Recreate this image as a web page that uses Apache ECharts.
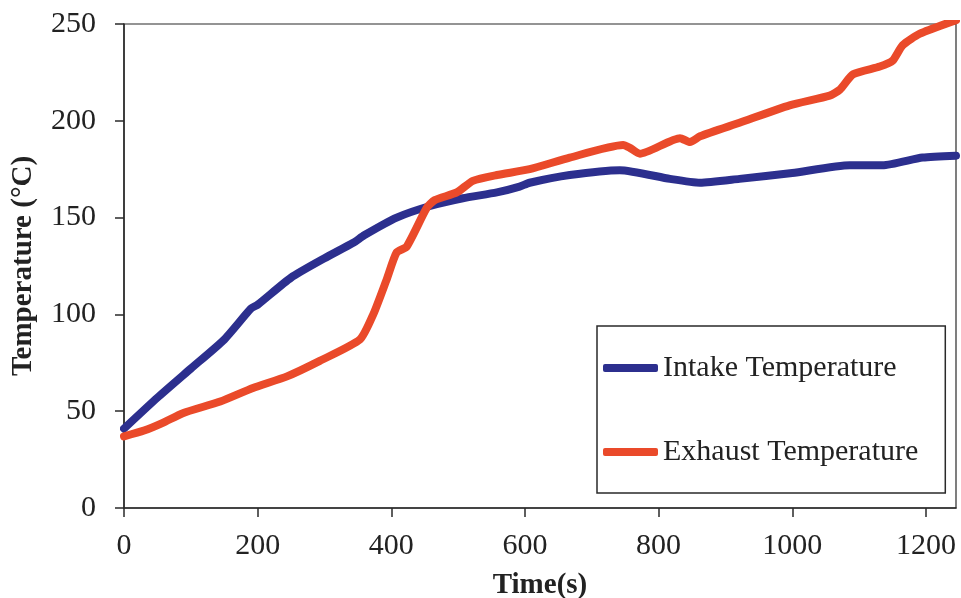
<!DOCTYPE html>
<html>
<head>
<meta charset="utf-8">
<script src="https://cdn.jsdelivr.net/npm/echarts@6/dist/echarts.min.js"></script>
<style>
  html, body { margin: 0; padding: 0; background: #ffffff; }
  #chart { width: 961px; height: 598px; }
</style>
</head>
<body>
<div id="chart"></div>
<script>
  // values
  const intakeTime = [0, 50, 100, 150, 190, 200, 250, 300, 343, 360, 408, 458, 507, 558, 592, 607, 667, 742, 817, 862, 921, 1000, 1086, 1135, 1195, 1245]
  const intakeTemp = [41, 57, 72, 87, 103, 105, 119, 129, 137, 141, 150, 156, 160, 163, 166, 168, 172, 174.5, 170, 168, 170, 173, 177, 177, 181, 182]
  const exhaustTime = [0, 30, 58, 88, 144, 193, 244, 293, 353, 373, 393, 408, 423, 453, 465, 498, 522, 558, 607, 667, 747, 757, 772, 832, 847, 862, 921, 996, 1056, 1071, 1091, 1131, 1150, 1165, 1191, 1245]
  const exhaustTemp = [37, 40, 44, 49, 55, 62, 68, 76, 87, 100, 118, 132, 135, 155, 159, 163, 169, 172, 175, 181, 187.5, 186, 183, 191, 189, 192, 199, 208, 213, 216, 224, 228, 231, 239, 245, 252]
  const xTicks = [0, 200, 400, 600, 800, 1000, 1200]
  const seriesNames = ['Intake Temperature', 'Exhaust Temperature']

  const font = 'Liberation Serif, Times New Roman, serif'
  const pairs = (xs, ys) => xs.map((x, i) => [x, ys[i]])

  const chart = echarts.init(document.getElementById('chart'))
  chart.setOption({
    animation: false,
    backgroundColor: '#ffffff',
    grid: {
      left: 124, right: 5, top: 24, bottom: 90,
      outerBoundsMode: 'none',
      containLabel: false,
      show: true, borderColor: '#2a2a2a', borderWidth: 1.2
    },
    legend: {
      orient: 'vertical',
      left: 597, top: 326,
      padding: [26, 27, 25, 6],
      itemWidth: 55, itemHeight: 8,
      itemGap: 52,
      icon: 'roundRect',
      borderColor: '#2a2a2a', borderWidth: 1.5,
      backgroundColor: '#ffffff',
      textStyle: { fontFamily: font, fontSize: 30, lineHeight: 32, color: '#222' },
      data: seriesNames
    },
    xAxis: {
      type: 'value',
      min: 0, max: 1245,
      name: 'Time(s)',
      nameLocation: 'middle',
      nameGap: 63,
      nameTextStyle: { fontFamily: font, fontSize: 29, fontWeight: 'bold', color: '#222' },
      splitLine: { show: false },
      axisLine: { lineStyle: { color: '#2a2a2a', width: 1.5 } },
      axisTick: { inside: false, length: 9, customValues: xTicks, lineStyle: { color: '#2a2a2a', width: 1.5 } },
      axisLabel: {
        customValues: xTicks, margin: 23, fontFamily: font, fontSize: 30, color: '#222',
        formatter: v => String(v)
      }
    },
    yAxis: {
      type: 'value',
      min: 0, max: 250, interval: 50,
      name: 'Temperature (°C)',
      nameLocation: 'middle',
      nameGap: 86,
      nameTextStyle: { fontFamily: font, fontSize: 29, fontWeight: 'bold', color: '#222' },
      splitLine: { show: false },
      axisLine: { show: true, lineStyle: { color: '#2a2a2a', width: 1.5 } },
      axisTick: { show: true, inside: false, length: 9, lineStyle: { color: '#2a2a2a', width: 1.5 } },
      axisLabel: { margin: 28, fontFamily: font, fontSize: 30, color: '#222' }
    },
    series: [
      {
        name: seriesNames[0],
        type: 'line',
        data: pairs(intakeTime, intakeTemp),
        symbol: 'none',
        smooth: 0.2,
        color: '#2c2f8e',
        lineStyle: { width: 8, color: '#2c2f8e', cap: 'round', join: 'round' }
      },
      {
        name: seriesNames[1],
        type: 'line',
        data: pairs(exhaustTime, exhaustTemp),
        symbol: 'none',
        smooth: 0.2,
        color: '#ea4a2a',
        lineStyle: { width: 8, color: '#ea4a2a', cap: 'round', join: 'round' }
      }
    ]
  })
</script>
</body>
</html>
